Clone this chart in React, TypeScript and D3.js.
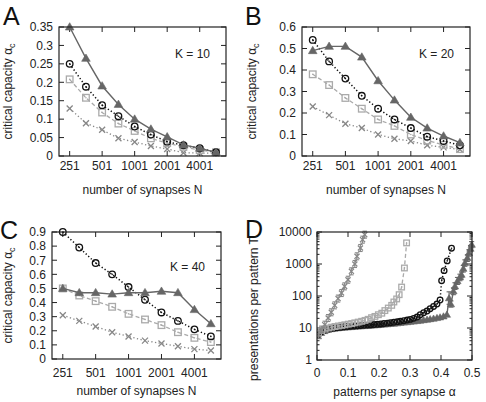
import React from 'react';
import * as d3 from 'd3';

const FONT = "'Liberation Sans', Arial, Helvetica, sans-serif";

// ---------- Panels A-C data ----------
const N_VALUES = [251, 355, 501, 709, 1001, 1415, 2001, 2829, 4001, 5657];
const N_TICKS = [251, 501, 1001, 2001, 4001];

const A_TRI = [0.35, 0.265, 0.19, 0.14, 0.1, 0.073, 0.052, 0.03, 0.021, 0.01];
const A_CIR = [0.25, 0.188, 0.138, 0.108, 0.08, 0.058, 0.039, 0.029, 0.021, 0.01];
const A_SQR = [0.208, 0.158, 0.118, 0.088, 0.068, 0.048, 0.035, 0.025, 0.016, 0.01];
const A_CRS = [0.129, 0.089, 0.071, 0.048, 0.038, 0.027, 0.019, 0.009, 0.008, 0.008];

const B_TRI = [0.49, 0.51, 0.51, 0.46, 0.35, 0.26, 0.18, 0.13, 0.093, 0.062];
const B_CIR = [0.54, 0.44, 0.36, 0.28, 0.22, 0.17, 0.13, 0.09, 0.07, 0.05];
const B_SQR = [0.38, 0.33, 0.27, 0.22, 0.17, 0.14, 0.1, 0.072, 0.052, 0.032];
const B_CRS = [0.23, 0.19, 0.15, 0.13, 0.1, 0.08, 0.07, 0.05, 0.04, 0.03];

const C_TRI = [0.5, 0.47, 0.47, 0.46, 0.47, 0.47, 0.48, 0.47, 0.35, 0.25];
const C_CIR = [0.9, 0.79, 0.68, 0.6, 0.51, 0.42, 0.33, 0.27, 0.21, 0.16];
const C_SQR = [0.5, 0.45, 0.41, 0.37, 0.32, 0.28, 0.24, 0.19, 0.15, 0.12];
const C_CRS = [0.31, 0.27, 0.23, 0.19, 0.16, 0.13, 0.11, 0.09, 0.07, 0.06];

const A_YTICKS = [0, 0.05, 0.1, 0.15, 0.2, 0.25, 0.3, 0.35];
const B_YTICKS = [0, 0.1, 0.2, 0.3, 0.4, 0.5, 0.6];
const C_YTICKS = [0, 0.1, 0.2, 0.3, 0.4, 0.5, 0.6, 0.7, 0.8, 0.9];

// ---------- Panel D data ----------
const D_XTICKS = [0, 0.1, 0.2, 0.3, 0.4, 0.5];
const D_YTICKS = [1, 10, 100, 1000, 10000];

const D_CRS_ALPHA = [0.005, 0.014, 0.025, 0.036, 0.046, 0.057, 0.068, 0.079, 0.089, 0.1, 0.111, 0.122, 0.129, 0.14, 0.147, 0.154];
const D_CRS_T = [6.2, 8.9, 12.7, 20.5, 31, 51, 83, 124, 200, 322, 590, 1000, 1740, 3160, 5750, 8250];

const D_SQR_ALPHA = [0.005, 0.015, 0.026, 0.037, 0.047, 0.058, 0.069, 0.08, 0.09, 0.101, 0.112, 0.122, 0.133, 0.144, 0.155, 0.165, 0.176, 0.187, 0.198, 0.209, 0.219, 0.23, 0.241, 0.248, 0.257, 0.265, 0.273, 0.282, 0.289];
const D_SQR_T = [7, 8.3, 9.2, 10, 10.6, 11.1, 11.6, 12.1, 12.6, 13.2, 13.8, 14.5, 15.3, 16.2, 17.3, 18.7, 21, 23, 26, 29, 35, 42, 51, 65, 81, 110, 190, 750, 4570];

const D_CIR_ALPHA = [0.003, 0.013, 0.024, 0.035, 0.045, 0.056, 0.067, 0.077, 0.088, 0.099, 0.109, 0.12, 0.131, 0.141, 0.152, 0.163, 0.173, 0.184, 0.195, 0.205, 0.216, 0.227, 0.237, 0.248, 0.259, 0.269, 0.28, 0.291, 0.301, 0.312, 0.323, 0.333, 0.344, 0.355, 0.365, 0.376, 0.387, 0.397, 0.402, 0.41, 0.42, 0.434];
const D_CIR_T = [6, 7.5, 8.5, 9.2, 9.7, 10, 10.3, 10.6, 10.9, 11.1, 11.3, 11.5, 11.7, 11.9, 12.1, 12.3, 12.5, 12.8, 13.1, 13.4, 13.8, 14.2, 14.6, 15.1, 15.6, 16.2, 16.9, 17.7, 18.6, 20, 22, 26, 30, 34, 40, 47, 56, 75, 300, 620, 1250, 3100];

const D_TRI_ALPHA = [0.003, 0.013, 0.024, 0.035, 0.045, 0.056, 0.067, 0.077, 0.088, 0.099, 0.109, 0.12, 0.131, 0.141, 0.152, 0.163, 0.173, 0.184, 0.195, 0.205, 0.216, 0.227, 0.237, 0.248, 0.259, 0.269, 0.28, 0.291, 0.301, 0.312, 0.323, 0.333, 0.344, 0.355, 0.365, 0.376, 0.387, 0.397, 0.408, 0.419];
const D_TRI_T = [5.5, 7, 8, 8.7, 9.2, 9.5, 9.8, 10.1, 10.3, 10.5, 10.7, 10.9, 11.1, 11.3, 11.5, 11.7, 11.9, 12.1, 12.3, 12.5, 12.8, 13.1, 13.4, 13.7, 14, 14.4, 14.8, 15.2, 15.6, 16, 16.5, 17, 17.6, 18.2, 18.9, 19.6, 20.5, 21.5, 23, 26];
const D_TRI_UP_ALPHA = [0.426, 0.432, 0.44, 0.445, 0.453, 0.461, 0.466, 0.472, 0.477, 0.485, 0.49, 0.495, 0.499];
const D_TRI_UP_T = [85, 55, 140, 200, 290, 380, 460, 710, 1070, 1540, 2200, 3000, 4000];
const D_TRI_UP_LO = [55, 45, 110, 160, 230, 300, 370, 560, 850, 1200, 1750, 2400, 3200];
const D_TRI_UP_HI = [135, 70, 180, 260, 380, 480, 560, 900, 1350, 1950, 2800, 3800, 5000];

// ---------- styles ----------
const STY = {
  tri: { color: '#666666', dash: '', width: 1.4 },
  cir: { color: '#111111', dash: '1.3 2.2', width: 1.5 },
  sqr: { color: '#aaaaaa', dash: '4 2.5', width: 1.3 },
  crs: { color: '#888888', dash: '1.3 2.4', width: 1.3 },
};

type Kind = 'tri' | 'cir' | 'sqr' | 'crs';

function Marker({ kind, x, y, s = 1 }: { kind: Kind; x: number; y: number; s?: number }) {
  const c = STY[kind].color;
  if (kind === 'tri') {
    return <path d={`M${x},${y - 4.3 * s}L${x + 4.3 * s},${y + 3 * s}L${x - 4.3 * s},${y + 3 * s}Z`} fill={c} stroke={c} strokeWidth={0.6} />;
  }
  if (kind === 'cir') {
    return (
      <g>
        <circle cx={x} cy={y} r={3.3 * s} fill="none" stroke={c} strokeWidth={1.3} />
        <circle cx={x} cy={y} r={0.8} fill={c} />
      </g>
    );
  }
  if (kind === 'sqr') {
    const h = 3.3 * s;
    return (
      <g>
        <rect x={x - h} y={y - h} width={2 * h} height={2 * h} fill="none" stroke={c} strokeWidth={1.3} />
        <circle cx={x} cy={y} r={0.8} fill={c} />
      </g>
    );
  }
  const h = 3 * s;
  return <path d={`M${x - h},${y - h}L${x + h},${y + h}M${x - h},${y + h}L${x + h},${y - h}`} stroke={c} strokeWidth={1.3} fill="none" />;
}

type Frame = { left: number; right: number; top: number; bottom: number };

function Series({ kind, pts, s = 1 }: { kind: Kind; pts: [number, number][]; s?: number }) {
  const st = STY[kind];
  const line = d3.line();
  return (
    <g>
      <path d={line(pts) || ''} fill="none" stroke={st.color} strokeWidth={st.width} strokeDasharray={st.dash || undefined} />
      {pts.map((p, i) => <Marker key={i} kind={kind} x={p[0]} y={p[1]} s={s} />)}
    </g>
  );
}

function CapacityPanel({ f, yTicks, yMax, yFmt, tri, cir, sqr, crs, letter, letterX, letterY, kLabel, kY, yLabelX, xTickY, xLabelY }: any) {
  const x = d3.scaleLog().domain([200, 7000]).range([f.left, f.right]);
  const y = d3.scaleLinear().domain([0, yMax]).range([f.bottom, f.top]);
  const mk = (vals: number[]) => N_VALUES.map((n, i) => [x(n), y(vals[i])] as [number, number]);
  const tl = 5;
  const cy = (f.top + f.bottom) / 2;
  return (
    <g fontFamily={FONT}>
      <text x={letterX} y={letterY} fontSize={25} fill="#111">{letter}</text>
      {yTicks.map((t: number) => (
        <g key={t}>
          <line x1={f.left} x2={f.left + tl} y1={y(t)} y2={y(t)} stroke="#222" />
          <line x1={f.right} x2={f.right - tl} y1={y(t)} y2={y(t)} stroke="#222" />
          <text x={f.left - 6} y={y(t) + 4.3} fontSize={12} textAnchor="end" fill="#222">{yFmt(t)}</text>
        </g>
      ))}
      {N_TICKS.map((t) => (
        <g key={t}>
          <line x1={x(t)} x2={x(t)} y1={f.bottom} y2={f.bottom - tl} stroke="#222" />
          <line x1={x(t)} x2={x(t)} y1={f.top} y2={f.top + tl} stroke="#222" />
          <text x={x(t)} y={xTickY} fontSize={12} textAnchor="middle" fill="#222">{t}</text>
        </g>
      ))}
      <text x={f.right - 16} y={kY} fontSize={12} textAnchor="end" fill="#222">{kLabel}</text>
      <Series kind="crs" pts={mk(crs)} />
      <Series kind="sqr" pts={mk(sqr)} />
      <Series kind="cir" pts={mk(cir)} />
      <Series kind="tri" pts={mk(tri)} />
      <rect x={f.left} y={f.top} width={f.right - f.left} height={f.bottom - f.top} fill="none" stroke="#222" strokeWidth={1.2} />
      <text transform={`translate(${yLabelX},${cy}) rotate(-90)`} fontSize={12} textAnchor="middle" fill="#222">
        critical capacity α<tspan fontSize={9} dy={3}>c</tspan>
      </text>
      <text x={(f.left + f.right) / 2} y={xLabelY} fontSize={12} textAnchor="middle" fill="#222">number of synapses N</text>
    </g>
  );
}

function PanelD() {
  const f = { left: 317, right: 472, top: 232, bottom: 360 };
  const x = d3.scaleLinear().domain([0, 0.5]).range([f.left, f.right]);
  const y = d3.scaleLog().domain([1, 10000]).range([f.bottom, f.top]);
  const pts = (a: number[], t: number[]) => a.map((v, i) => [x(v), y(t[i])] as [number, number]);
  const minors: number[] = [];
  D_YTICKS.slice(0, -1).forEach((d) => { for (let k = 2; k <= 9; k++) minors.push(d * k); });
  const triAll = pts(D_TRI_ALPHA.concat(D_TRI_UP_ALPHA), D_TRI_T.concat(D_TRI_UP_T));
  const crs = pts(D_CRS_ALPHA, D_CRS_T);
  return (
    <g fontFamily={FONT}>
      <defs>
        <clipPath id="dclip"><rect x={f.left} y={f.top - 4} width={f.right - f.left + 4} height={f.bottom - f.top + 4} /></clipPath>
      </defs>
      <text transform={`translate(258,309) rotate(-90)`} fontSize={12} textAnchor="middle" fill="#222">presentations per pattern T</text>
      <rect x={244} y={218} width={18} height={8} fill="#fff" />
      <text x={245} y={238} fontSize={25} fill="#111">D</text>
      {D_YTICKS.map((t) => (
        <g key={t}>
          <line x1={f.left} x2={f.left + 5} y1={y(t)} y2={y(t)} stroke="#222" />
          <line x1={f.right} x2={f.right - 5} y1={y(t)} y2={y(t)} stroke="#222" />
          <text x={f.left - 5} y={y(t) + 4.3} fontSize={12} textAnchor="end" fill="#222">{t}</text>
        </g>
      ))}
      {minors.map((t) => (
        <g key={t}>
          <line x1={f.left} x2={f.left + 2.5} y1={y(t)} y2={y(t)} stroke="#222" />
          <line x1={f.right} x2={f.right - 2.5} y1={y(t)} y2={y(t)} stroke="#222" />
        </g>
      ))}
      {D_XTICKS.map((t) => (
        <g key={t}>
          <line x1={x(t)} x2={x(t)} y1={f.bottom} y2={f.bottom - 5} stroke="#222" />
          <line x1={x(t)} x2={x(t)} y1={f.top} y2={f.top + 5} stroke="#222" />
          <text x={x(t)} y={377} fontSize={12} textAnchor="middle" fill="#222">{t}</text>
        </g>
      ))}
      <g clipPath="url(#dclip)">
        <Series kind="tri" pts={triAll} s={0.85} />
        {D_TRI_UP_ALPHA.map((a, i) => (
          <g key={i} stroke={STY.tri.color} strokeWidth={1.1}>
            <line x1={x(a)} x2={x(a)} y1={y(D_TRI_UP_LO[i])} y2={y(D_TRI_UP_HI[i])} />
            <line x1={x(a) - 2.5} x2={x(a) + 2.5} y1={y(D_TRI_UP_LO[i])} y2={y(D_TRI_UP_LO[i])} />
            <line x1={x(a) - 2.5} x2={x(a) + 2.5} y1={y(D_TRI_UP_HI[i])} y2={y(D_TRI_UP_HI[i])} />
          </g>
        ))}
        <Series kind="cir" pts={pts(D_CIR_ALPHA, D_CIR_T)} s={0.85} />
        <Series kind="sqr" pts={pts(D_SQR_ALPHA, D_SQR_T)} s={0.85} />
        <Series kind="crs" pts={crs} s={0.85} />
        {crs.map((p, i) => (
          <g key={i} stroke={STY.crs.color} strokeWidth={1.1}>
            <line x1={p[0]} x2={p[0]} y1={p[1] - 3.5} y2={p[1] + 3.5} />
            <line x1={p[0] - 2.2} x2={p[0] + 2.2} y1={p[1] - 3.5} y2={p[1] - 3.5} />
            <line x1={p[0] - 2.2} x2={p[0] + 2.2} y1={p[1] + 3.5} y2={p[1] + 3.5} />
          </g>
        ))}
      </g>
      <rect x={f.left} y={f.top} width={f.right - f.left} height={f.bottom - f.top} fill="none" stroke="#222" strokeWidth={1.2} />
      <text x={(f.left + f.right) / 2} y={396} fontSize={12} textAnchor="middle" fill="#222">patterns per synapse α</text>
    </g>
  );
}

const fmt = (t: number) => (t === 0 ? '0' : String(+t.toFixed(2)));

export default function App() {
  return (
    <svg width={486} height={402} style={{ position: 'absolute', left: 0, top: 0, background: '#fff' }}>
      <rect width={486} height={402} fill="#fff" />
      <CapacityPanel f={{ left: 59, right: 226, top: 27, bottom: 156 }} yTicks={A_YTICKS} yMax={0.35} yFmt={fmt}
        tri={A_TRI} cir={A_CIR} sqr={A_SQR} crs={A_CRS} letter="A" letterX={3} letterY={25}
        kLabel="K = 10" kY={58} yLabelX={12} xTickY={170} xLabelY={194} />
      <CapacityPanel f={{ left: 302, right: 470, top: 27, bottom: 156 }} yTicks={B_YTICKS} yMax={0.6} yFmt={fmt}
        tri={B_TRI} cir={B_CIR} sqr={B_SQR} crs={B_CRS} letter="B" letterX={245} letterY={25}
        kLabel="K = 20" kY={58} yLabelX={256} xTickY={170} xLabelY={194} />
      <CapacityPanel f={{ left: 52, right: 221, top: 232, bottom: 359 }} yTicks={C_YTICKS} yMax={0.9} yFmt={fmt}
        tri={C_TRI} cir={C_CIR} sqr={C_SQR} crs={C_CRS} letter="C" letterX={0} letterY={239}
        kLabel="K = 40" kY={271} yLabelX={12} xTickY={377} xLabelY={395} />
      <PanelD />
    </svg>
  );
}
